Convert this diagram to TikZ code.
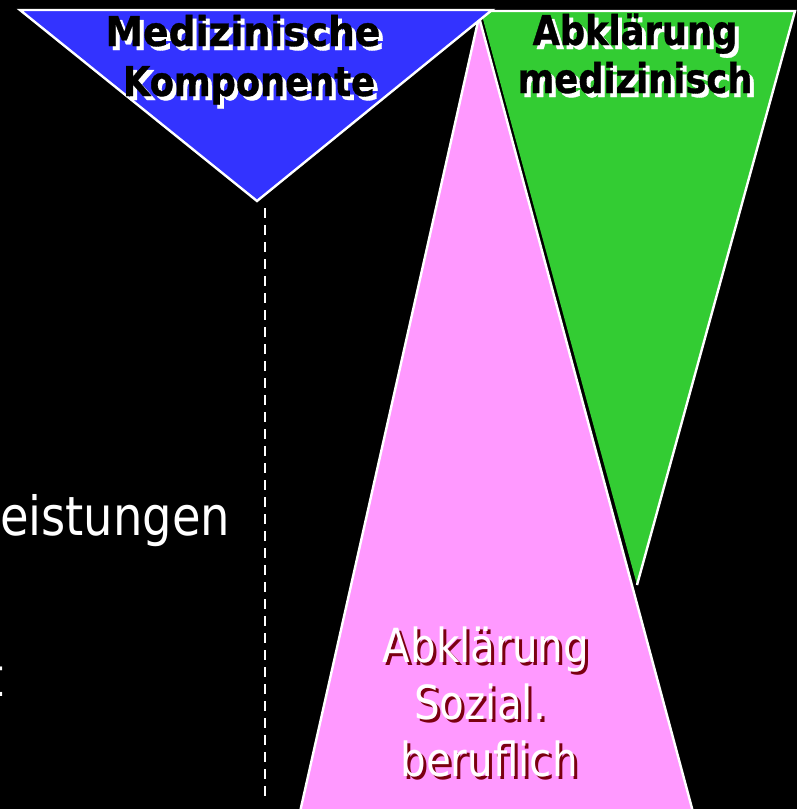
\documentclass[tikz,border=0pt]{standalone}
\usepackage{fontspec}
\newfontfamily\tah[FakeStretch=0.86]{DejaVu Sans}
\newfontfamily\tahb[FakeStretch=0.86,FakeBold=0.8]{DejaVu Sans Bold}
\newfontfamily\tahbn[FakeStretch=0.92,FakeBold=0.8]{DejaVu Sans Bold}
\definecolor{bgblack}{HTML}{000000}
\definecolor{triblue}{HTML}{3333FF}
\definecolor{trigreen}{HTML}{33CC33}
\definecolor{tripink}{HTML}{FF99FF}
\definecolor{shadowred}{HTML}{7A0010}
\tikzset{
  tri/.style={draw=white, line width=2.4pt, line join=miter},
  halo/.style={draw=black, line width=6pt, line join=miter},
  lbl/.style={anchor=base, inner sep=0pt, outer sep=0pt},
  boldtxt/.style={lbl, text=black, font=\tahb\fontsize{41}{48}\selectfont},
  boldshadow/.style={lbl, text=white, font=\tahb\fontsize{41}{48}\selectfont},
  pinktxt/.style={lbl, text=white, font=\tah\fontsize{47}{56}\selectfont},
  pinkshadow/.style={lbl, text=shadowred, font=\tah\fontsize{47}{56}\selectfont},
  plaintxt/.style={lbl, text=white, font=\tah\fontsize{54}{62}\selectfont},
  divider/.style={draw=white, line width=2.2pt, dash pattern=on 10pt off 7pt}
}
\begin{document}
\begin{tikzpicture}[x=1pt, y=-1pt]
\fill[bgblack] (0,0) rectangle (797,809);
\useasboundingbox (0,0) rectangle (797,809);

% green triangle (white outline on top and right edges)
\fill[trigreen] (480.7,11) -- (795,11) -- (637,585) -- cycle;
\draw[tri] (480.7,11) -- (795,11) -- (637,585);

% pink triangle with dark halo
\draw[halo] (479,17) -- (693,812) -- (300,812) -- cycle;
\draw[tri, fill=tripink] (479,17) -- (693,812) -- (300,812) -- cycle;

% blue triangle
\draw[tri, fill=triblue] (20,10) -- (492,10) -- (257,201) -- cycle;

% dashed divider
\coordinate (dtop) at (265,208);
\coordinate (dbot) at (265,797);
\draw[divider] (dtop) -- (dbot);

% blue triangle text
\node[boldshadow, font=\tahbn\fontsize{41}{48}\selectfont] (medS) at (247,50) {Medizinische};
\node[boldtxt, font=\tahbn\fontsize{41}{48}\selectfont] (med) at (243,46) {Medizinische};
\node[boldshadow] (kompS) at (253,100) {Komponente};
\node[boldtxt] (komp) at (249,96) {Komponente};

% green triangle text
\node[boldshadow] (abkS) at (639,49) {Abklärung};
\node[boldtxt] (abk) at (635,45) {Abklärung};
\node[boldshadow] (mediS) at (639,97) {medizinisch};
\node[boldtxt] (medi) at (635,93) {medizinisch};

% pink triangle text
\node[pinkshadow] (pabkS) at (489,665) {Abklärung};
\node[pinktxt] (pabk) at (486,662) {Abklärung};
\node[pinkshadow] (psozS) at (483,722) {Sozial.};
\node[pinktxt] (psoz) at (480,719) {Sozial.};
\node[pinkshadow] (pberS) at (492,779) {beruflich};
\node[pinktxt] (pber) at (489,776) {beruflich};

% left text
\node[plaintxt, anchor=base west] (leist) at (0,535) {eistungen};
\node[plaintxt, anchor=base east] (tchar) at (3.5,696) {t};
\end{tikzpicture}
\end{document}
